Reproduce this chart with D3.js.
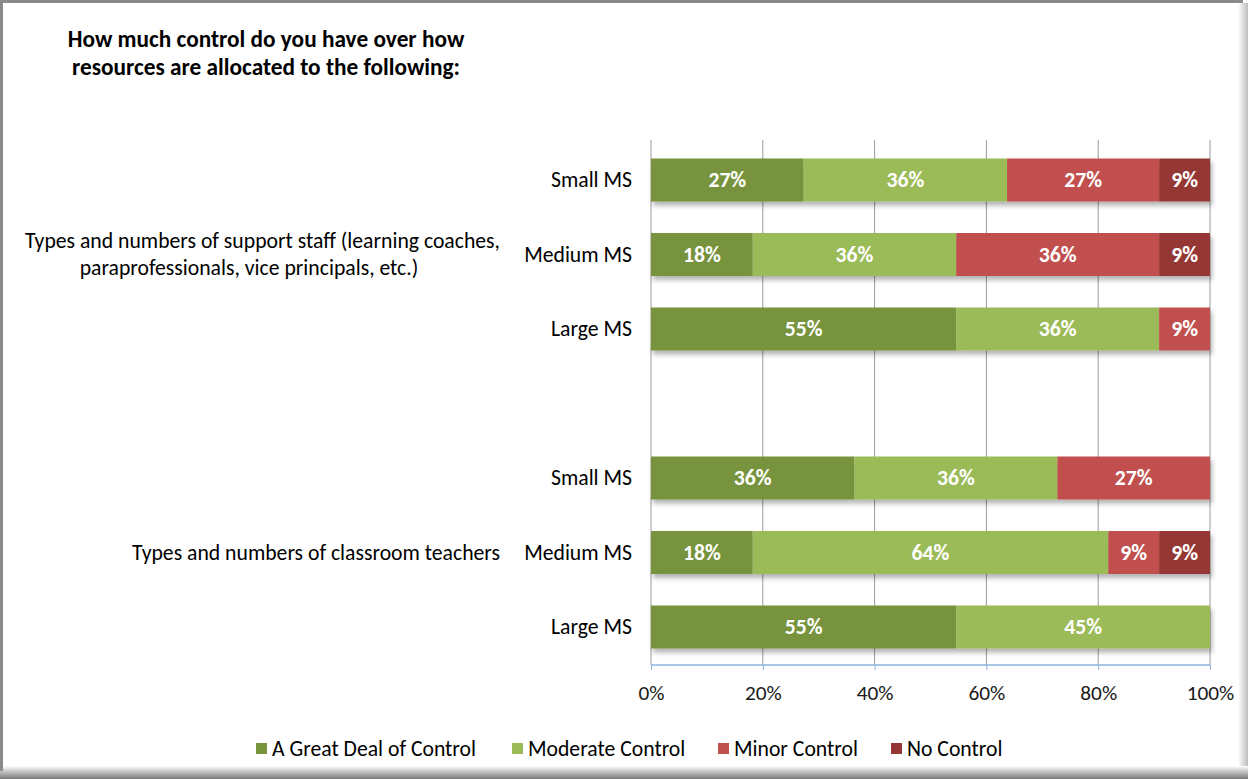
<!DOCTYPE html>
<html>
<head>
<meta charset="utf-8">
<script src="https://cdn.jsdelivr.net/npm/d3@7"></script>
<style>
  html, body { margin: 0; padding: 0; background: #fff; }
  svg { display: block; font-family: Carlito, Calibri, "Open Sans", sans-serif; }
</style>
</head>
<body>
<svg id="chart" width="1248" height="779"></svg>
<script>
// ---- Data ----
const title = ["How much control do you have over how", "resources are allocated to the following:"];
const series = ["A Great Deal of Control", "Moderate Control", "Minor Control", "No Control"];
const colors = ["#77933c", "#9bbb59", "#c0504d", "#953735"];
const groupLabels = [
  ["Types and numbers of support staff (learning coaches,", "paraprofessionals, vice principals, etc.)"],
  ["Types and numbers of classroom teachers"]
];
const rowLabels = ["Small MS", "Medium MS", "Large MS", "Small MS", "Medium MS", "Large MS"];
const rowGroup = [0, 0, 0, 1, 1, 1];
const greatDeal = [27.3, 18.2, 54.6, 36.4, 18.2, 54.6];
const moderate  = [36.4, 36.4, 36.3, 36.3, 63.6, 45.4];
const minor     = [27.2, 36.3, 9.1, 27.3, 9.1, 0];
const noControl = [9.1, 9.1, 0, 0, 9.1, 0];
const xTicks = [0, 20, 40, 60, 80, 100];

const svg = d3.select("#chart");
const W = 1248, H = 779;
const FONT = 'Carlito, Calibri, "Open Sans", sans-serif';
const FS = 21.7;

// defs
const defs = svg.append("defs");
const f = defs.append("filter").attr("id", "barShadow").attr("x", "-5%").attr("y", "-30%").attr("width", "112%").attr("height", "190%");
f.append("feDropShadow").attr("dx", 2).attr("dy", 4).attr("stdDeviation", 2.5).attr("flood-color", "#000").attr("flood-opacity", 0.3);
const gR = defs.append("linearGradient").attr("id", "shR").attr("x1", 0).attr("x2", 1).attr("y1", 0).attr("y2", 0);
gR.append("stop").attr("offset", 0).attr("stop-color", "#fff");
gR.append("stop").attr("offset", 1).attr("stop-color", "#bdbdbd");
const gB = defs.append("linearGradient").attr("id", "shB").attr("x1", 0).attr("x2", 0).attr("y1", 0).attr("y2", 1);
gB.append("stop").attr("offset", 0).attr("stop-color", "#fff");
gB.append("stop").attr("offset", 0.4).attr("stop-color", "#c8c8c8");
gB.append("stop").attr("offset", 1).attr("stop-color", "#7a7a7a");

// frame
svg.append("rect").attr("x", 0).attr("y", 0).attr("width", W).attr("height", H).attr("fill", "#fff");
svg.append("rect").attr("x", 1238).attr("y", 3).attr("width", 10).attr("height", 768).attr("fill", "url(#shR)");
svg.append("rect").attr("x", 0).attr("y", 766).attr("width", 1248).attr("height", 13).attr("fill", "url(#shB)");
svg.append("rect").attr("x", 0).attr("y", 0).attr("width", 1243).attr("height", 3).attr("fill", "#8a8a8a");
svg.append("rect").attr("x", 0).attr("y", 0).attr("width", 3).attr("height", 771).attr("fill", "#8a8a8a");

// title
svg.append("g").selectAll("text").data(title).join("text")
  .attr("x", 266).attr("y", (d, i) => 47 + i * 28)
  .attr("text-anchor", "middle").attr("font-weight", "bold").attr("font-size", 23.3).attr("fill", "#000")
  .text(d => d);

// scales
const x = d3.scaleLinear().domain([0, 100]).range([651, 1210]);
const slots = ["r0", "r1", "r2", "gap", "r3", "r4", "r5"];
const y = d3.scaleBand().domain(slots).range([142.75, 664.25]).paddingInner(0.423).paddingOuter(0.2115);
const rowSlot = i => slots[i < 3 ? i : i + 1];

// gridlines
const plotTop = 140, axisY = 665;
svg.append("g").selectAll("line").data(xTicks).join("line")
  .attr("x1", d => x(d)).attr("x2", d => x(d)).attr("y1", plotTop).attr("y2", axisY)
  .attr("stroke", "#9a9a9a").attr("stroke-width", 1);

// stacked data
const rows = rowLabels.map((lab, i) => ({ label: lab, vals: [greatDeal[i], moderate[i], minor[i], noControl[i]], i }));
const rowG = svg.append("g").selectAll("g").data(rows).join("g")
  .attr("transform", d => `translate(0,${y(rowSlot(d.i))})`)
  .attr("filter", "url(#barShadow)");
rowG.each(function (d) {
  let acc = 0;
  const segs = d.vals.map((v, k) => { const s = { x0: acc, x1: acc + v, v, k }; acc += v; return s; }).filter(s => s.v > 0);
  d3.select(this).selectAll("rect").data(segs).join("rect")
    .attr("x", s => x(s.x0)).attr("width", s => x(s.x1) - x(s.x0))
    .attr("y", 0).attr("height", y.bandwidth())
    .attr("fill", s => colors[s.k]);
});
// labels on bars
const lblG = svg.append("g");
rows.forEach(d => {
  let acc = 0;
  d.vals.forEach((v, k) => {
    if (v > 0) {
      lblG.append("text")
        .attr("x", x(acc + v / 2)).attr("y", y(rowSlot(d.i)) + y.bandwidth() / 2 + 7)
        .attr("text-anchor", "middle").attr("font-weight", "bold").attr("font-size", 21.7).attr("fill", "#fff")
        .text(Math.round(v) + "%");
    }
    acc += v;
  });
});

// x axis
const axis = svg.append("g").attr("transform", `translate(0,${axisY})`)
  .call(d3.axisBottom(x).tickValues(xTicks).tickSize(5).tickFormat(d => d + "%"));
axis.select(".domain").attr("stroke", "#8db3e2").attr("stroke-width", 1.5).attr("d", `M${x(0)},0H${x(100)}`);
axis.selectAll(".tick line").attr("stroke", "#8db3e2");
axis.selectAll(".tick text").attr("font-size", 21.3).attr("fill", "#1a1a1a").attr("dy", 0).attr("y", 34.5)
  .attr("font-family", FONT);

// row labels
svg.append("g").selectAll("text").data(rows).join("text")
  .attr("x", 632).attr("y", d => y(rowSlot(d.i)) + y.bandwidth() / 2 + 7)
  .attr("text-anchor", "end").attr("font-size", FS).attr("fill", "#000").text(d => d.label);

// group labels
const gCenter = g => {
  const idx = rows.filter(r => rowGroup[r.i] === g).map(r => y(rowSlot(r.i)) + y.bandwidth() / 2);
  return d3.mean(idx);
};
groupLabels.forEach((lines, g) => {
  const cy = gCenter(g);
  lines.forEach((t, li) => {
    const n = lines.length;
    const ty = cy + 7 + (li - (n - 1) / 2) * 27;
    svg.append("text")
      .attr("x", li === 0 ? 500 : 249).attr("y", ty)
      .attr("text-anchor", li === 0 ? "end" : "middle")
      .attr("font-size", FS).attr("fill", "#000").text(t);
  });
});

// legend
const legX = [256, 512, 718, 891];
const leg = svg.append("g").selectAll("g").data(series).join("g")
  .attr("transform", (d, i) => `translate(${legX[i]},743)`);
leg.append("rect").attr("width", 11).attr("height", 11).attr("fill", (d, i) => colors[i]);
leg.append("text").attr("x", 16).attr("y", 12.5).attr("font-size", FS).attr("fill", "#000").text(d => d);
</script>
</body>
</html>
